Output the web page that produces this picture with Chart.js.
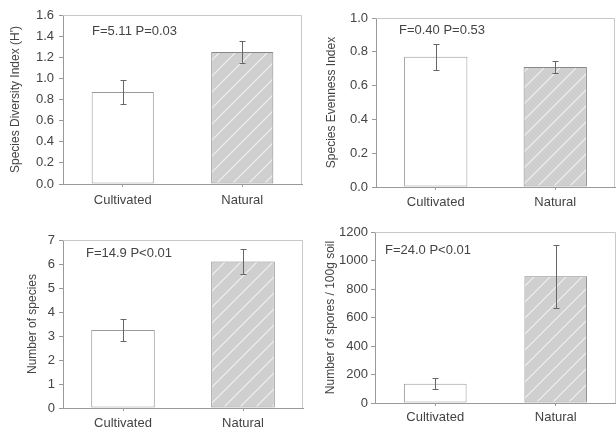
<!DOCTYPE html>
<html>
<head>
<meta charset="utf-8">
<script src="https://cdn.jsdelivr.net/npm/chart.js@4"></script>
<style>
  body { margin: 0; background: #fff; }
  .panel { position: absolute; width: 308px; height: 215px; }
</style>
</head>
<body>
<div class="panel" style="left:0;top:0"><canvas id="diversity" width="308" height="215"></canvas></div>
<div class="panel" style="left:308px;top:0"><canvas id="evenness" width="308" height="215"></canvas></div>
<div class="panel" style="left:0;top:215px"><canvas id="species" width="308" height="215"></canvas></div>
<div class="panel" style="left:308px;top:215px"><canvas id="spores" width="308" height="215"></canvas></div>
<script>
// data
const groups = ['Cultivated', 'Natural'];

const diversityMean = [0.87, 1.25];
const diversityErr = [0.11, 0.10];
const evennessMean = [0.77, 0.71];
const evennessErr = [0.075, 0.035];
const speciesMean = [3.25, 6.1];
const speciesErr = [0.45, 0.53];
const sporesMean = [135, 890];
const sporesErr = [38, 222];

const diversityTicks = [0, 1.6, 0.2];
const evennessTicks = [0, 1.0, 0.2];
const speciesTicks = [0, 7, 1];
const sporesTicks = [0, 1200, 200];

const FONT = 'Liberation Sans, Arial, sans-serif';
const TXT = '#444';
const AXIS = '#999';

// grey fill with light diagonal hatch
function hatch() {
  const c = document.createElement('canvas');
  c.width = 16; c.height = 16;
  const g = c.getContext('2d');
  g.fillStyle = '#cfcfcf';
  g.fillRect(0, 0, 16, 16);
  g.strokeStyle = 'rgba(255,255,255,0.7)';
  g.lineWidth = 1.2;
  g.beginPath();
  g.moveTo(0, 16); g.lineTo(16, 0);
  g.moveTo(-4, 4); g.lineTo(4, -4);
  g.moveTo(12, 20); g.lineTo(20, 12);
  g.stroke();
  return g.createPattern(c, 'repeat');
}

const extras = {
  id: 'extras',
  afterDatasetsDraw(chart, args, opts) {
    const { ctx, chartArea: a, scales: { y } } = chart;
    ctx.save();
    // top and right side of the frame
    ctx.strokeStyle = '#c8c8c8';
    ctx.lineWidth = 1;
    ctx.beginPath();
    ctx.moveTo(a.left, a.top + 0.5);
    ctx.lineTo(a.right - 0.5, a.top + 0.5);
    ctx.lineTo(a.right - 0.5, a.bottom);
    ctx.stroke();

    // error bars
    const meta = chart.getDatasetMeta(0);
    const vals = chart.data.datasets[0].data;
    ctx.strokeStyle = '#666';
    opts.err.forEach((e, i) => {
      const px = Math.round(meta.data[i].x) + 0.5;
      const t = Math.round(y.getPixelForValue(vals[i] + e)) + 0.5;
      const b = Math.round(y.getPixelForValue(vals[i] - e)) + 0.5;
      ctx.beginPath();
      ctx.moveTo(px, t); ctx.lineTo(px, b);
      ctx.moveTo(px - 3, t); ctx.lineTo(px + 3, t);
      ctx.moveTo(px - 3, b); ctx.lineTo(px + 3, b);
      ctx.stroke();
    });

    // F / P note
    ctx.fillStyle = TXT;
    ctx.font = '13px ' + FONT;
    ctx.textBaseline = 'middle';
    ctx.fillText(opts.note, a.left + opts.noteX, a.top + opts.noteY);
    ctx.restore();
  }
};

function makeChart(id, mean, err, ticks, title, note, lay) {
  const [min, max, step] = ticks;
  return new Chart(document.getElementById(id), {
    type: 'bar',
    data: {
      labels: groups,
      datasets: [{
        data: mean,
        backgroundColor: ['#ffffff', hatch()],
        borderColor: ['#9a9a9a', '#888888'],
        borderWidth: 1,
        borderSkipped: false,
        barPercentage: lay.bar,
        categoryPercentage: 1
      }]
    },
    options: {
      responsive: false,
      devicePixelRatio: 1,
      animation: false,
      events: [],
      layout: { padding: { left: 0, top: lay.top, right: lay.right, bottom: 0 } },
      plugins: {
        legend: { display: false },
        tooltip: { enabled: false },
        extras: { err: err, note: note, noteX: lay.noteX, noteY: lay.noteY }
      },
      scales: {
        x: {
          grid: { display: true, offset: false, drawOnChartArea: false, tickLength: 3, color: AXIS },
          border: { color: AXIS },
          ticks: { color: TXT, font: { family: FONT, size: 13 }, padding: lay.xPad },
          afterFit: s => { s.height = lay.xH; }
        },
        y: {
          min: min, max: max,
          grid: { drawOnChartArea: false, tickLength: 4, color: AXIS },
          border: { color: AXIS },
          ticks: {
            stepSize: step,
            color: TXT,
            font: { family: FONT, size: 13 },
            padding: lay.yPad,
            callback: v => step < 1 ? v.toFixed(1) : v
          },
          title: {
            display: true, text: title, color: TXT,
            font: { family: FONT, size: 12 },
            padding: { top: lay.tPad, bottom: 0 }
          },
          afterFit: s => { s.width = lay.yW; }
        }
      }
    },
    plugins: [extras]
  });
}

makeChart('diversity', diversityMean, diversityErr, diversityTicks,
  "Species Diversity Index (H')", 'F=5.11 P=0.03',
  { top: 15, right: 6, yW: 63, xH: 31, bar: 0.52, xPad: 6, yPad: 5, tPad: 8, noteX: 29, noteY: 16 });

makeChart('evenness', evennessMean, evennessErr, evennessTicks,
  'Species Evenness Index', 'F=0.40 P=0.53',
  { top: 18, right: 1, yW: 68, xH: 28, bar: 0.53, xPad: 5, yPad: 4, tPad: 16, noteX: 23, noteY: 12 });

makeChart('species', speciesMean, speciesErr, speciesTicks,
  'Number of species', 'F=14.9 P<0.01',
  { top: 25, right: 5, yW: 63, xH: 22, bar: 0.53, xPad: 5, yPad: 4, tPad: 25, noteX: 23, noteY: 13 });

makeChart('spores', sporesMean, sporesErr, sporesTicks,
  'Number of spores / 100g soil', 'F=24.0 P<0.01',
  { top: 17, right: 0, yW: 67, xH: 27, bar: 0.52, xPad: 4, yPad: 3, tPad: 15, noteX: 10, noteY: 18 });
</script>
</body>
</html>
